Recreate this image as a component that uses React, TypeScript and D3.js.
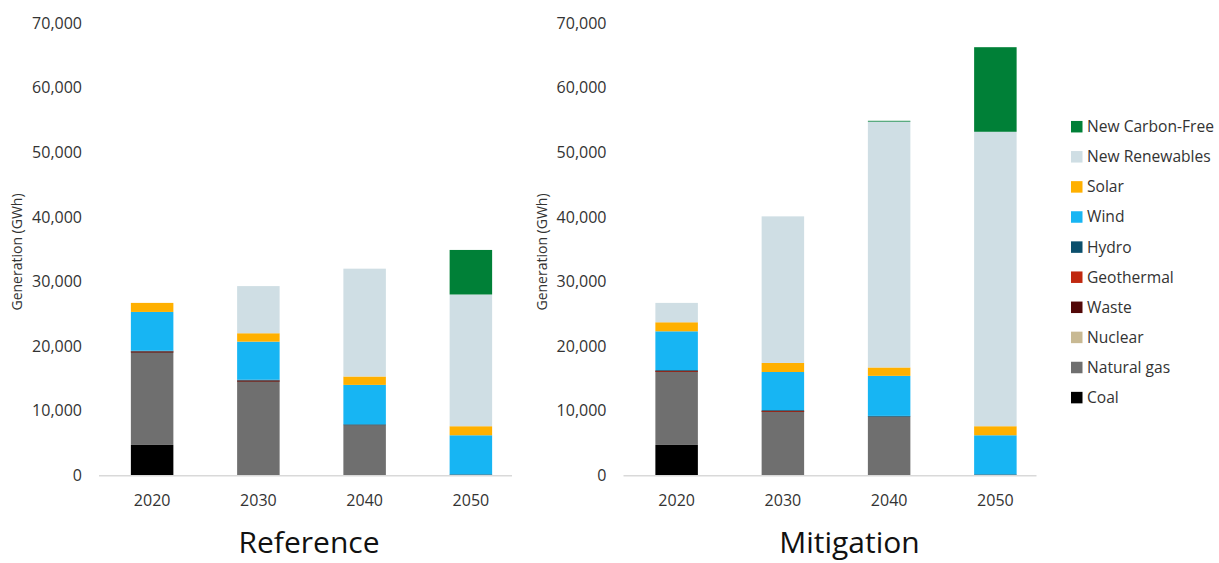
import React from "react";
import * as d3 from "d3";

// Categories and series
const years = ["2020", "2030", "2040", "2050"];
const sources = [
  "Coal",
  "Natural gas",
  "Nuclear",
  "Waste",
  "Geothermal",
  "Hydro",
  "Wind",
  "Solar",
  "New Renewables",
  "New Carbon-Free",
];
const sourceColors = [
  "#000000",
  "#6f6f6f",
  "#c8b993",
  "#520808",
  "#c0280f",
  "#0b4f6c",
  "#17b5f3",
  "#ffb000",
  "#cfdee4",
  "#008037",
];

// Reference scenario generation (GWh)
const refCoal = [4700, 0, 0, 0];
const refGas = [14400, 14600, 7800, 0];
const refNuclear = [0, 0, 0, 0];
const refWaste = [50, 50, 0, 0];
const refGeothermal = [50, 50, 0, 0];
const refHydro = [100, 100, 100, 150];
const refWind = [6000, 5900, 6100, 6050];
const refSolar = [1400, 1300, 1300, 1400];
const refNewRenewables = [0, 7300, 16700, 20400];
const refNewCarbonFree = [0, 0, 0, 6900];

// Mitigation scenario generation (GWh)
const mitCoal = [4700, 0, 0, 0];
const mitGas = [11400, 9900, 9100, 0];
const mitNuclear = [0, 0, 0, 0];
const mitWaste = [50, 50, 0, 0];
const mitGeothermal = [50, 50, 0, 0];
const mitHydro = [100, 100, 100, 150];
const mitWind = [6000, 5900, 6200, 6050];
const mitSolar = [1400, 1400, 1300, 1400];
const mitNewRenewables = [3000, 22700, 38100, 45600];
const mitNewCarbonFree = [0, 0, 100, 13100];

const yTicks = [0, 10000, 20000, 30000, 40000, 50000, 60000, 70000];

const referenceSeries = [
  refCoal, refGas, refNuclear, refWaste, refGeothermal,
  refHydro, refWind, refSolar, refNewRenewables, refNewCarbonFree,
];
const mitigationSeries = [
  mitCoal, mitGas, mitNuclear, mitWaste, mitGeothermal,
  mitHydro, mitWind, mitSolar, mitNewRenewables, mitNewCarbonFree,
];

type Row = { year: string; [k: string]: number | string };

function toRows(series: number[][]): Row[] {
  return years.map((year, i) => {
    const row: Row = { year };
    sources.forEach((s, j) => {
      row[s] = series[j][i];
    });
    return row;
  });
}

const FONT = "'Open Sans', 'Liberation Sans', sans-serif";
const TEXT = "#333333";

const yScale = d3.scaleLinear().domain([0, 70000]).range([475.3, 23.3]);
const fmt = d3.format(",");

function Panel({
  series,
  x0,
  title,
  titleX,
}: {
  series: number[][];
  x0: number;
  title: string;
  titleX: number;
}) {
  const rows = toRows(series);
  const stack = d3.stack<Row>().keys(sources).value((d, k) => d[k] as number);
  const layers = stack(rows);
  const x = d3
    .scaleBand<string>()
    .domain(years)
    .range([x0, x0 + 425])
    .paddingInner(0.6)
    .paddingOuter(0.3);
  const color = d3.scaleOrdinal<string, string>().domain(sources).range(sourceColors);

  return (
    <g>
      {/* y tick labels */}
      {yTicks.map((t) => (
        <text
          key={t}
          x={x0 - 17}
          y={yScale(t)}
          dy="0.35em"
          textAnchor="end"
          fontFamily={FONT}
          fontSize={16}
          fill={TEXT}
        >
          {fmt(t)}
        </text>
      ))}
      {/* y axis title */}
      <text
        transform={`translate(${x0 - 77},252) rotate(-90)`}
        textAnchor="middle"
        fontFamily={FONT}
        fontSize={14}
        fill={TEXT}
      >
        Generation (GWh)
      </text>
      {/* stacked bars */}
      {layers.map((layer) => (
        <g key={layer.key} fill={color(layer.key)}>
          {layer.map((d) => {
            const h = yScale(d[0]) - yScale(d[1]);
            if (h <= 0) return null;
            return (
              <rect
                key={d.data.year as string}
                x={x(d.data.year as string)}
                y={yScale(d[1])}
                width={x.bandwidth()}
                height={Math.max(h, 0.8)}
              />
            );
          })}
        </g>
      ))}
      {/* baseline */}
      <line
        x1={x0}
        x2={x0 + 413}
        y1={yScale(0) + 0.5}
        y2={yScale(0) + 0.5}
        stroke="#d9d9d9"
        strokeWidth={1.5}
      />
      {/* x tick labels */}
      {years.map((yr) => (
        <text
          key={yr}
          x={(x(yr) as number) + x.bandwidth() / 2}
          y={500}
          dy="0.35em"
          textAnchor="middle"
          fontFamily={FONT}
          fontSize={16}
          fill={TEXT}
        >
          {yr}
        </text>
      ))}
      {/* panel title */}
      <text
        x={titleX}
        y={553}
        textAnchor="middle"
        fontFamily={FONT}
        fontSize={30}
        fill="#111"
      >
        {title}
      </text>
    </g>
  );
}

function Legend() {
  const items = sources.slice().reverse();
  const colors = sourceColors.slice().reverse();
  return (
    <g>
      {items.map((name, i) => {
        const cy = 126.7 + i * 30.1;
        return (
          <g key={name}>
            <rect x={1071} y={cy - 5.75} width={11.5} height={11.5} fill={colors[i]} />
            <text
              x={1087}
              y={cy}
              dy="0.35em"
              fontFamily={FONT}
              fontSize={15.6}
              fill={TEXT}
            >
              {name}
            </text>
          </g>
        );
      })}
    </g>
  );
}

export default function App() {
  return (
    <svg
      width={1219}
      height={563}
      style={{ position: "absolute", left: 0, top: 0, background: "#fff" }}
    >
      <rect width={1219} height={563} fill="#fff" />
      <Panel series={referenceSeries} x0={99} title="Reference" titleX={309} />
      <Panel series={mitigationSeries} x0={623.5} title="Mitigation" titleX={849.5} />
      <Legend />
    </svg>
  );
}
